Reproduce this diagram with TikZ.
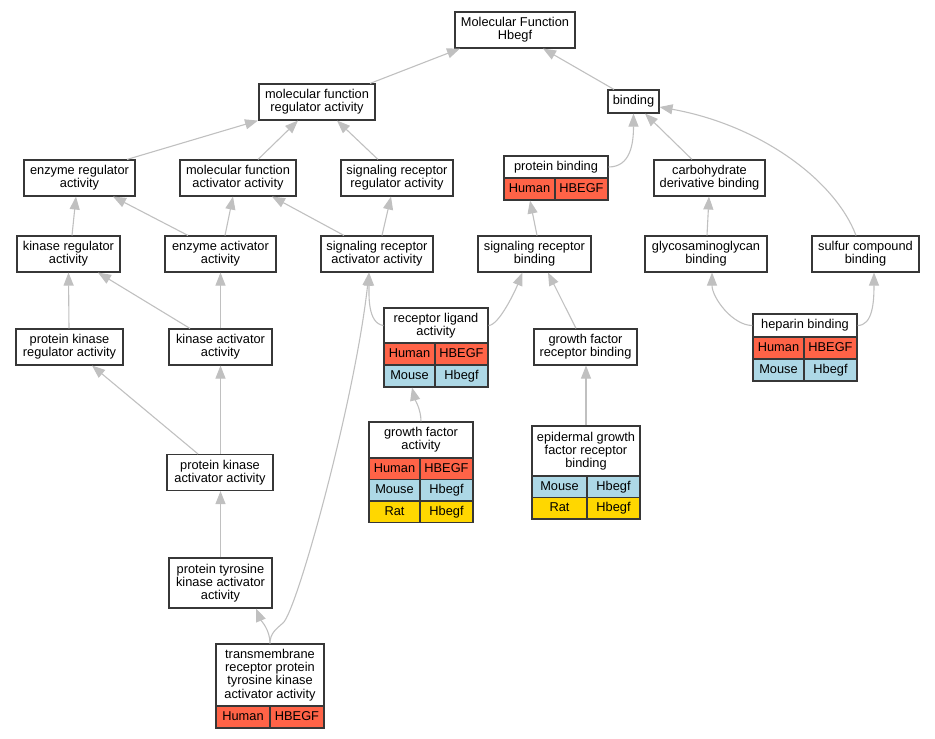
\documentclass[tikz,border=0pt]{standalone}
\usepackage{fontspec}
\setmainfont{Liberation Sans}
\usetikzlibrary{arrows.meta}
\definecolor{edgecol}{RGB}{192,192,192}
\definecolor{bordercol}{RGB}{55,55,55}
\definecolor{human}{RGB}{255,99,71}
\definecolor{mouse}{RGB}{173,216,230}
\definecolor{rat}{RGB}{255,215,0}
\begin{document}
\begin{tikzpicture}[x=1pt,y=-1pt, font=\fontsize{12.8}{13.3}\selectfont,
  box/.style={draw=bordercol, line width=1.1pt, fill=white, inner sep=0pt, align=center},
  sz/.style 2 args={minimum width=#1, minimum height=#2},
  cell/.style={draw=bordercol, line width=1.1pt, inner sep=0pt, text height=9.2pt, text depth=2.7pt},
  edge/.style={draw=edgecol, line width=1.1pt, -{Triangle[length=13pt,width=10pt]}}]
\useasboundingbox (0,0) rectangle (935,739);

% nodes
\node[box, sz={120}{36}] (MF) at (515,30) {Molecular Function\\Hbegf};
\node[box, sz={116}{36}] (mfra) at (317,102) {molecular function\\regulator activity};
\node[box, sz={51}{23}] (bind) at (633.5,101.5) {binding};
\node[box, sz={111}{36}] (er) at (79.5,178) {enzyme regulator\\activity};
\node[box, sz={116}{36}] (mfaa) at (238,178) {molecular function\\activator activity};
\node[box, sz={112}{36}] (srra) at (397,178) {signaling receptor\\regulator activity};
\node[box, sz={104}{22}] (pbH) at (556,167) {protein binding};
\node[cell, fill=human, sz={51}{22}] (pbC1) at (529.5,189) {Human};
\node[cell, fill=human, sz={53}{22}] (pbC2) at (581.5,189) {HBEGF};
\node[box, sz={111}{36}] (cdb) at (709.5,178) {carbohydrate\\derivative binding};
\node[box, sz={103}{36}] (kr) at (68.5,254) {kinase regulator\\activity};
\node[box, sz={111}{36}] (ea) at (220.5,254) {enzyme activator\\activity};
\node[box, sz={112}{36}] (sraa) at (377,254) {signaling receptor\\activator activity};
\node[box, sz={113}{36}] (srb) at (534.5,254) {signaling receptor\\binding};
\node[box, sz={122}{36}] (gag) at (706,254) {glycosaminoglycan\\binding};
\node[box, sz={107}{36}] (scb) at (865.5,254) {sulfur compound\\binding};
\node[box, sz={107}{36}] (pkr) at (69.5,347) {protein kinase\\regulator activity};
\node[box, sz={103}{36}] (ka) at (220.5,347) {kinase activator\\activity};
\node[box, sz={103}{36}] (gfrb) at (585.5,347) {growth factor\\receptor binding};

\node[box, sz={104}{35}] (rlaH) at (436,325.5) {receptor ligand\\activity};
\node[cell, fill=human, sz={51}{22}] (rlaH1) at (409.5,354) {Human};
\node[cell, fill=human, sz={53}{22}] (rlaH2) at (461.5,354) {HBEGF};
\node[cell, fill=mouse, sz={51}{22}] (rlaM1) at (409.5,376) {Mouse};
\node[cell, fill=mouse, sz={53}{22}] (rlaM2) at (461.5,376) {Hbegf};

\node[box, sz={104}{23}] (hbH) at (805,325.5) {heparin binding};
\node[cell, fill=human, sz={51}{22}] (hbH1) at (778.5,348) {Human};
\node[cell, fill=human, sz={53}{22}] (hbH2) at (830.5,348) {HBEGF};
\node[cell, fill=mouse, sz={51}{22}] (hbM1) at (778.5,370) {Mouse};
\node[cell, fill=mouse, sz={53}{22}] (hbM2) at (830.5,370) {Hbegf};

\node[box, sz={104}{36}] (gfaH) at (421,440) {growth factor\\activity};
\node[cell, fill=human, sz={51}{21.5}] (gfaH1) at (394.5,468.75) {Human};
\node[cell, fill=human, sz={53}{21.5}] (gfaH2) at (446.5,468.75) {HBEGF};
\node[cell, fill=mouse, sz={51}{21.5}] (gfaM1) at (394.5,490.25) {Mouse};
\node[cell, fill=mouse, sz={53}{21.5}] (gfaM2) at (446.5,490.25) {Hbegf};
\node[cell, fill=rat, sz={51}{21.5}] (gfaR1) at (394.5,511.75) {Rat};
\node[cell, fill=rat, sz={53}{21.5}] (gfaR2) at (446.5,511.75) {Hbegf};

\node[box, sz={108}{50}] (egfrbH) at (586,451) {epidermal growth\\factor receptor\\binding};
\node[cell, fill=mouse, sz={55}{21.5}] (egfrbM1) at (559.5,486.75) {Mouse};
\node[cell, fill=mouse, sz={53}{21.5}] (egfrbM2) at (613.5,486.75) {Hbegf};
\node[cell, fill=rat, sz={55}{21.5}] (egfrbR1) at (559.5,508.25) {Rat};
\node[cell, fill=rat, sz={53}{21.5}] (egfrbR2) at (613.5,508.25) {Hbegf};

\node[box, sz={106}{36}] (pka) at (220,472.5) {protein kinase\\activator activity};
\node[box, sz={103}{50}] (ptka) at (220.5,583) {protein tyrosine\\kinase activator\\activity};

\node[box, sz={108}{62}] (tmH) at (270,675) {transmembrane\\receptor protein\\tyrosine kinase\\activator activity};
\node[cell, fill=human, sz={54}{22}] (tmH1) at (243,717) {Human};
\node[cell, fill=human, sz={54}{22}] (tmH2) at (297,717) {HBEGF};

\coordinate (tmj) at (283,623);

% edges
\draw[edge] ([xshift=53]mfra.north) -- ([xshift=-55]MF.south);
\draw[edge] ([xshift=-19.5]bind.north) -- ([xshift=28]MF.south);
\draw[edge] ([xshift=47.5]er.north) -- ([xshift=-59]mfra.south);
\draw[edge] ([xshift=20]mfaa.north) -- ([xshift=-19]mfra.south);
\draw[edge] ([xshift=-19]srra.north) -- ([xshift=20]mfra.south);
\draw[edge] ([xshift=3.5]kr.north) -- ([xshift=-3.5]er.south);
\draw[edge] ([xshift=-32.5]ea.north) -- ([xshift=33.5]er.south);
\draw[edge] ([xshift=4.5]ea.north) -- ([xshift=-5]mfaa.south);
\draw[edge] ([xshift=-33]sraa.north) -- ([xshift=34]mfaa.south);
\draw[edge] ([xshift=5]sraa.north) -- ([xshift=-6]srra.south);
\draw[edge] ([xshift=-0.5]pkr.north) -- (kr.south);
\draw[edge] ([xshift=-30.5]ka.north) -- ([xshift=29.5]kr.south);
\draw[edge] (ka.north) -- (ea.south);
\draw[edge] ([xshift=-22]pka.north) -- ([xshift=22.5]pkr.south);
\draw[edge] ([xshift=0.5]pka.north) -- (ka.south);
\draw[edge] (ptka.north) -- ([xshift=0.5]pka.south);
\draw[edge] (tmH.north) .. controls +(0,-14) and +(5,12) .. ([xshift=35.5]ptka.south);
\draw[edge] (tmH.north) .. controls +(0,-10) and +(-7,6) .. (tmj)
  .. controls (297,611) and (355,400) .. ([xshift=-8]sraa.south);
\draw[edge] (rlaH.west) .. controls +(-16,-2) and +(0,22) .. ([xshift=-8]sraa.south);
\draw[edge] (rlaH.east) .. controls +(10,0) and +(-8,20) .. ([xshift=-12]srb.south);
\draw[edge] (gfaH.north) .. controls +(0,-12) and +(3,12) .. ([xshift=2.5]rlaM1.south);
\draw[edge] ([xshift=2.5]srb.north) -- ([xshift=0.5]pbC1.south);
\draw[edge] ([xshift=-9.5]gfrb.north) -- ([xshift=13.5]srb.south);
\draw[edge] (egfrbH.north) -- ([xshift=0.5]gfrb.south);
\draw[edge] (pbH.east) .. controls +(22,0) and +(0,30) .. (bind.south);
\draw[edge] ([xshift=-17.5]cdb.north) -- ([xshift=11.5]bind.south);
\draw[edge] ([xshift=1]gag.north) -- ([xshift=-0.5]cdb.south);
\draw[edge] ([xshift=-9.5]scb.north) .. controls (835,180) and (760,125) .. ([yshift=-5.5]bind.east);
\draw[edge] (hbH.west) .. controls +(-20,0) and +(0,25) .. ([xshift=6]gag.south);
\draw[edge] (hbH.east) .. controls +(15,0) and +(0,30) .. ([xshift=8.5]scb.south);
\end{tikzpicture}
\end{document}
